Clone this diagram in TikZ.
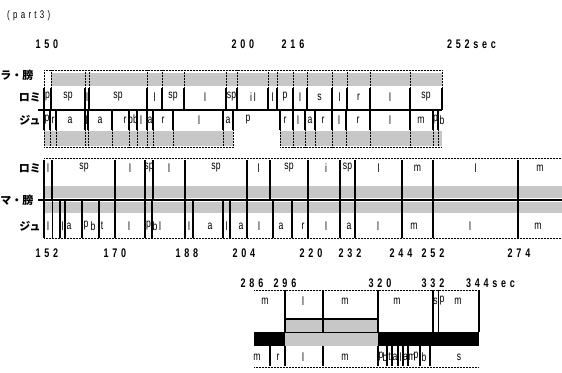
\documentclass[tikz,border=0pt]{standalone}
\usepackage{fontspec}
\setmainfont[FakeStretch=0.72]{Liberation Sans}
\newfontfamily\numfont[FakeStretch=0.72,LetterSpace=30]{Liberation Sans}
\newfontfamily\jpfont{Noto Sans CJK JP}
\usetikzlibrary{positioning}

\begin{document}
\begin{tikzpicture}[x=1pt,y=-1pt,
  lbl/.style={font=\fontsize{12}{12}\selectfont,inner sep=0pt},
  num/.style={font=\numfont\bfseries\fontsize{12.5}{12.5}\selectfont,inner sep=0pt},
  jp/.style={font=\jpfont\bfseries\fontsize{11}{11}\selectfont,inner sep=0pt},
  sep/.style={line width=1.2pt},
  fine/.style={line width=0.5pt},
  dots/.style={line width=0.5pt,densely dotted},
  band/.style={fill=black!22}
]
\useasboundingbox (0,0) rectangle (562,372);

\node[num,anchor=west,font=\numfont\fontsize{11}{11}\selectfont] (part) at (7,16) {(part3)};

% ---- upper block: 150 - 252 sec
\foreach \x/\t [count=\i] in {47/150,243/200,293/216}
  \node[num] (t1-\i) at (\x,44) {\t};
\node[num,anchor=west] (t1-end) at (447,44) {252sec};

\node[jp] (la1) at (17,75) {ラ・膀};
\node[jp] (ro1) at (30,97) {ロミ};
\node[jp] (ju1) at (30,120) {ジュ};

\fill[band] (51,73) rectangle (442,86);
\fill[band] (44,131) rectangle (233,146);
\fill[band] (280,131) rectangle (442,146);
\draw[dots] (44,70) -- (442,70);
\draw[dots] (44,147) -- (233,147) (280,147) -- (442,147);
\draw[sep] (38,110) -- (442,110);

\foreach \x in {44,51,85,89,147,162,184,226,237,268,277,293,307,332,347,370,410,442}{
  \draw[dots] (\x,70) -- (\x,88);
  \draw[sep] (\x,88) -- (\x,110);
}
\foreach \x in {44,50,56,85,88,112,129,137,147,153,173,223,233,280,293,305,315,332,346,370,410,433,438}{
  \draw[sep] (\x,110) -- (\x,130);
  \draw[dots] (\x,130) -- (\x,147);
}
\foreach \x/\t [count=\i] in {47.5/p,68/sp,87/l,118/sp,154.5/l,173/sp,205/l,
    231.5/sp,253/i\,l,272.5/l,285/p,300/l,319.5/s,339.5/l,358.5/r,390/l,426/sp}
  \node[lbl] (r1-\i) at (\x,97) {\t};
\foreach \x/\t [count=\i] in {47/p,53/r,70/a,86.5/l,100/a,125/r,133/pb,141/l,
    150/a,163/r,199/l,228/a,248/p,285/r,298/l,310/a,323/r,339/l,358/r,390/l,
    421/m,435.5/p,442/b}
  \node[lbl] (j1-\i) at (\x,120) {\t};

% ---- middle block: 152 - 274 sec
\node[jp] (ro2) at (30,168) {ロミ};
\node[jp] (ma2) at (17,200) {マ・膀};
\node[jp] (ju2) at (30,226) {ジュ};

\fill[band] (44,186) rectangle (562,198);
\fill[band] (44,202) rectangle (562,213);
\draw[dots] (44,158) -- (562,158);
\draw[dots] (44,238) -- (562,238);
\draw[line width=1.6pt] (38,200) -- (562,200);

\foreach \x in {44,52,115,145,153,185,247,270,308,340,355,402,433,518}
  \draw[sep] (\x,160) -- (\x,200);
\foreach \x in {44,60,65,82,99,115,145,152,185,193,223,230,247,273,292,308,340,355,402,433,518}
  \draw[sep] (\x,200) -- (\x,238);
\draw[fine] (52,200) -- (52,238);

\foreach \x/\t [count=\i] in {48/l,84/sp,130/l,149/sp,169/l,216/sp,258.5/l,
    289/sp,326/i,347.5/sp,378.5/l,417.5/m,475.5/l,540/m}
  \node[lbl] (r2-\i) at (\x,168) {\t};
\foreach \x/\t [count=\i] in {48/l,62.5/l,69/a,86/p,93/b,102/t,129/l,148.5/p,
    155/b,160/l,189/l,210/a,226.5/l,241/a,259/l,281/a,303/r,326/l,349/a,378/l,
    414/m,470/l,538/m}
  \node[lbl] (j2-\i) at (\x,226) {\t};

\foreach \x/\t [count=\i] in {47/152,115/170,187/188,244/204,311/220,350/232,401/244,433/252,519/274}
  \node[num] (t2-\i) at (\x,253) {\t};

% ---- lower block: 286 - 344 sec
\foreach \x/\t [count=\i] in {252/286,285/296,380/320,433/332}
  \node[num] (t3-\i) at (\x,283) {\t};
\node[num,anchor=west] (t3-end) at (466,283) {344sec};

\draw[dots] (254,290) -- (479,290);
\fill[band] (285,320) rectangle (378,346);
\draw[sep] (285,319) -- (378,319);
\draw[fine] (285,332) -- (378,332);
\fill (254,332) rectangle (285,346);
\fill (378,332) rectangle (479,346);

\foreach \x in {285,323,378,433,479}
  \draw[sep] (\x,290) -- (\x,332);
\draw[fine] (438,290) -- (438,332);
\foreach \x in {270,285,323,378,387,392,398,403,408,420,430}
  \draw[sep] (\x,346) -- (\x,366);
\draw[dots] (254,367) -- (479,367);

\foreach \x/\t [count=\i] in {265/m,303/l,345/m,397/m,435.5/s,442/p,458/m}
  \node[lbl] (r3-\i) at (\x,301) {\t};
\foreach \x/\t [count=\i] in {257/m,278/r,303/l,345/m,381/p,385/b,389.5/t,
    395/a,400.5/l,405.5/a,412/m,416/p,424/b,459/s}
  \node[lbl] (j3-\i) at (\x,357) {\t};
\end{tikzpicture}
\end{document}
